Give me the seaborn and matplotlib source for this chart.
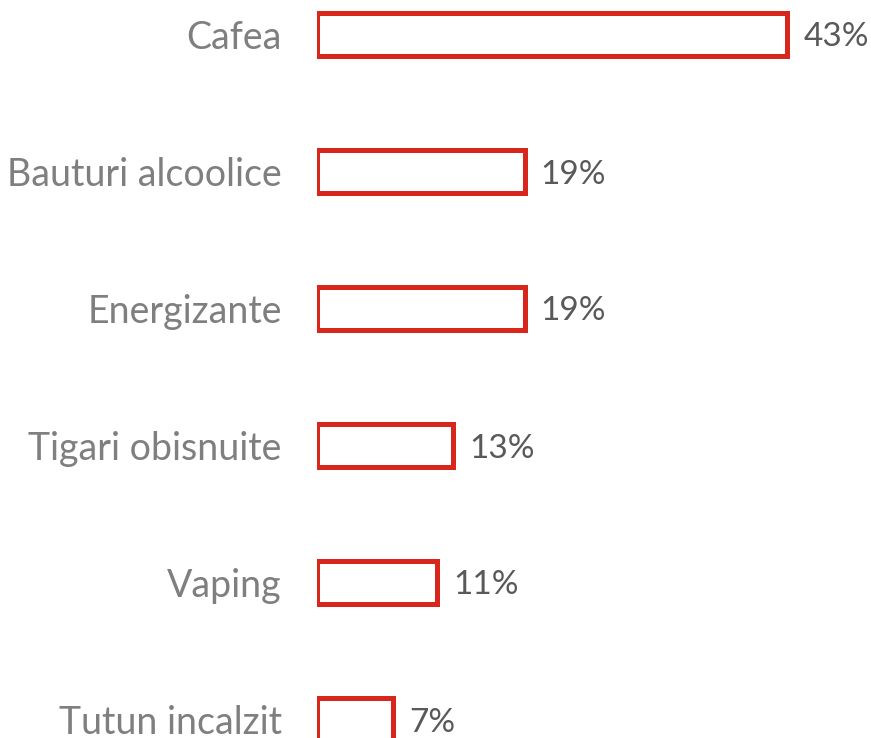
import matplotlib
matplotlib.use("Agg")
import matplotlib.pyplot as plt
import seaborn as sns
import pandas as pd

categories = ["Cafea", "Bauturi alcoolice", "Energizante", "Tigari obisnuite", "Vaping", "Tutun incalzit"]
values = [43, 19, 19, 12.5, 11, 7]
value_labels = ["43%", "19%", "19%", "13%", "11%", "7%"]

df = pd.DataFrame({"categorie": categories, "procent": values})

sns.set_style("white")
plt.rcParams["font.family"] = ["Lato", "DejaVu Sans"]

W, H = 871, 738
fig = plt.figure(figsize=(W / 100, H / 100), dpi=100)

# axes placed in pixel terms: x=0 at the bar's left edge
px_per_unit = 10.95
x0 = 316.5
xmax = 50
ax = fig.add_axes([x0 / W, 0, xmax * px_per_unit / W, 1])

sns.barplot(data=df, x="procent", y="categorie", order=categories, ax=ax,
            width=0.31, color="white", edgecolor="#D9261C", linewidth=3.6)

# row spacing 137 px, first row centred at 34.5 px
step = 137.0
ax.set_ylim((H - 34.5) / step, -34.5 / step)
ax.set_xlim(0, xmax)

for i, (v, lab) in enumerate(zip(values, value_labels)):
    ax.text(v + 1.45, i, lab, va="center_baseline", ha="left", fontsize=24, color="#595959")

ax.set_yticks(range(len(categories)))
ax.set_yticklabels(categories, fontsize=27, color="#7f7f7f")
ax.tick_params(axis="y", length=0, pad=25)
ax.set_xticks([])
ax.set_xlabel("")
ax.set_ylabel("")
sns.despine(ax=ax, left=True, bottom=True)

fig.savefig("out.png", dpi=100)
